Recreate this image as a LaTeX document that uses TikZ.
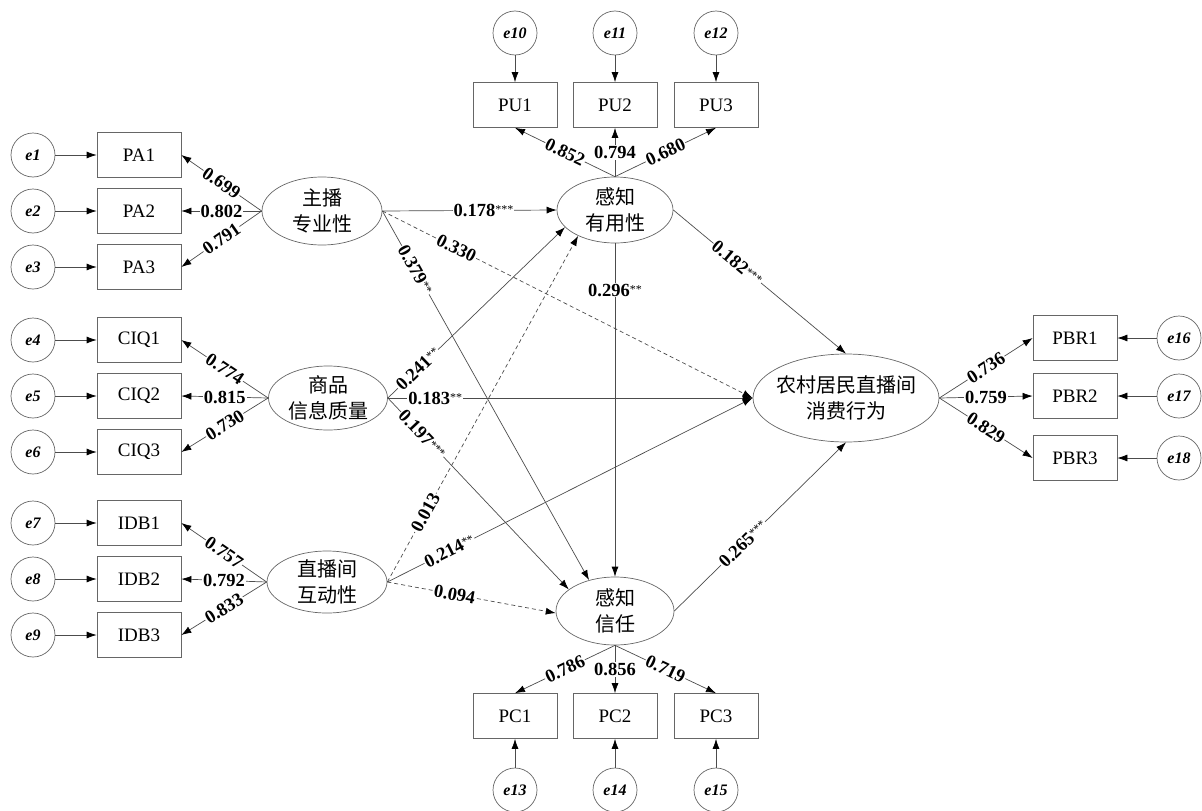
\documentclass[tikz,border=0pt]{standalone}
\usepackage{fontspec}
\setmainfont{Liberation Serif}
\newfontfamily\cjk{Noto Sans CJK SC}
\usetikzlibrary{shapes.geometric,arrows.meta}

% significance stars, small and raised
\newcommand\stars[1]{\raisebox{3pt}{\fontsize{12}{12}\selectfont\mdseries #1}}

\begin{document}
\begin{tikzpicture}[x=1pt,y=-1pt,
  line/.style={draw=black!70, line width=0.7pt},
  arr/.style={line, -{Latex[length=10pt,width=7pt,color=black]}},
  dsh/.style={arr, dash pattern=on 4pt off 3pt},
  obs/.style={draw=black!60, line width=0.7pt, minimum width=84pt, minimum height=45pt,
              inner sep=0pt, font=\fontsize{19}{19}\selectfont},
  err/.style={circle, draw=black!60, line width=0.7pt, minimum size=44pt, inner sep=0pt,
              font=\fontsize{16}{16}\selectfont\bfseries\itshape},
  lat/.style={ellipse, draw=black!60, line width=0.7pt, inner sep=0pt},
  lattxt/.style={align=center, inner sep=0pt, font=\fontsize{20}{26}\selectfont\cjk},
  coef/.style={fill=white, inner sep=1pt, font=\fontsize{18.5}{18.5}\selectfont\bfseries},
]
\useasboundingbox (0,0) rectangle (1202,811);

% latent variables
\node[lat, minimum width=120pt, minimum height=68pt, label={[lattxt]center:主播\\专业性}] (pa) at (322,211) {};
\node[lat, minimum width=119pt, minimum height=64pt, label={[lattxt]center:商品\\信息质量}] (cq) at (328,398) {};
\node[lat, minimum width=120pt, minimum height=62pt, label={[lattxt]center:直播间\\互动性}] (ia) at (327,582) {};
\node[lat, minimum width=116pt, minimum height=66pt, label={[lattxt]center:感知\\有用性}] (pu) at (615,210) {};
\node[lat, minimum width=118pt, minimum height=68pt, label={[lattxt]center:感知\\信任}] (pt) at (615,611) {};
\node[lat, minimum width=186pt, minimum height=88pt, label={[lattxt]center:农村居民直播间\\消费行为}] (cb) at (846,398) {};

% observed indicators, left column
\node[obs] (pa1) at (139,155) {PA1};
\node[obs] (pa2) at (139,211) {PA2};
\node[obs] (pa3) at (139,267) {PA3};
\node[obs] (cq1) at (139,340) {CIQ1};
\node[obs] (cq2) at (139,396) {CIQ2};
\node[obs] (cq3) at (139,452) {CIQ3};
\node[obs] (ib1) at (139,523) {IDB1};
\node[obs] (ib2) at (139,579) {IDB2};
\node[obs] (ib3) at (139,635) {IDB3};
% top, bottom and right indicators
\node[obs] (pu1) at (515,105) {PU1};
\node[obs] (pu2) at (615,105) {PU2};
\node[obs] (pu3) at (716,105) {PU3};
\node[obs] (pc1) at (515,716) {PC1};
\node[obs] (pc2) at (615,716) {PC2};
\node[obs] (pc3) at (716,716) {PC3};
\node[obs] (pb1) at (1075,338) {PBR1};
\node[obs] (pb2) at (1075,396) {PBR2};
\node[obs] (pb3) at (1075,458) {PBR3};

% error terms
\node[err] (e1) at (33,155) {e1};
\node[err] (e2) at (33,211) {e2};
\node[err] (e3) at (33,267) {e3};
\node[err] (e4) at (33,340) {e4};
\node[err] (e5) at (33,396) {e5};
\node[err] (e6) at (33,452) {e6};
\node[err] (e7) at (33,523) {e7};
\node[err] (e8) at (33,579) {e8};
\node[err] (e9) at (33,635) {e9};
\node[err] (e10) at (515,33) {e10};
\node[err] (e11) at (615,33) {e11};
\node[err] (e12) at (716,33) {e12};
\node[err] (e13) at (515,790) {e13};
\node[err] (e14) at (615,790) {e14};
\node[err] (e15) at (716,790) {e15};
\node[err] (e16) at (1179,338) {e16};
\node[err] (e17) at (1179,396) {e17};
\node[err] (e18) at (1179,458) {e18};

\foreach \e/\o in {e1/pa1,e2/pa2,e3/pa3,e4/cq1,e5/cq2,e6/cq3,e7/ib1,e8/ib2,e9/ib3,
                   e10/pu1,e11/pu2,e12/pu3,e13/pc1,e14/pc2,e15/pc3,e16/pb1,e17/pb2,e18/pb3}
  \draw[arr] (\e) -- (\o);

% factor loadings
\draw[arr] (pa.west) -- node[coef, sloped] {0.699} (pa1.east);
\draw[arr] (pa.west) -- node[coef] {0.802} (pa2.east);
\draw[arr] (pa.west) -- node[coef, sloped] {0.791} (pa3.east);
\draw[arr] (cq.west) -- node[coef, sloped] {0.774} (cq1.east);
\draw[arr] (cq.west) -- node[coef] {0.815} (cq2.east);
\draw[arr] (cq.west) -- node[coef, sloped] {0.730} (cq3.east);
\draw[arr] (ia.west) -- node[coef, sloped] {0.757} (ib1.east);
\draw[arr] (ia.west) -- node[coef] {0.792} (ib2.east);
\draw[arr] (ia.west) -- node[coef, sloped] {0.833} (ib3.east);
\draw[arr] (pu.north) -- node[coef, sloped] {0.852} (pu1.south);
\draw[arr] (pu.north) -- node[coef] {0.794} (pu2.south);
\draw[arr] (pu.north) -- node[coef, sloped] {0.680} (pu3.south);
\draw[arr] (pt.south) -- node[coef, sloped] {0.786} (pc1.north);
\draw[arr] (pt.south) -- node[coef] {0.856} (pc2.north);
\draw[arr] (pt.south) -- node[coef, sloped] {0.719} (pc3.north);
\draw[arr] (cb.east) -- node[coef, sloped] {0.736} (pb1.west);
\draw[arr] (cb.east) -- node[coef] {0.759} (pb2.west);
\draw[arr] (cb.east) -- node[coef, sloped] {0.829} (pb3.west);

% structural paths
\draw[arr] (pa.east) -- node[coef, pos=0.58] {0.178\stars{***}} (pu.west);
\draw[dsh] (pa.east) -- node[coef, sloped, pos=0.2] {0.330} (cb.west);
\draw[arr] (pa.east) -- node[coef, sloped, pos=0.16] {0.379\stars{**}} (pt.130);
\draw[arr] (cq.east) -- node[coef, sloped, pos=0.17] {0.241\stars{**}} (pu.199);
\draw[arr] (cq.east) -- node[coef, pos=0.13] {0.183\stars{**}} (cb.west);
\draw[arr] (cq.east) -- node[coef, sloped, pos=0.19] {0.197\stars{***}} (pt.155);
\draw[dsh] (ia.east) -- node[coef, sloped, pos=0.2] {0.013} (pu.215);
\draw[arr] (ia.east) -- node[coef, sloped, pos=0.17] {0.214\stars{**}} (cb.west);
\draw[dsh] (ia.east) -- node[coef, sloped, pos=0.4] {0.094} (pt.182);
\draw[arr] (pu.south) -- node[coef, pos=0.14] {0.296\stars{**}} (pt.north);
\draw[arr] (pu.east) -- node[coef, sloped, pos=0.37] {0.182\stars{***}} (cb.north);
\draw[arr] (pt.east) -- node[coef, sloped, pos=0.4] {0.265\stars{***}} (cb.south);
\end{tikzpicture}
\end{document}
